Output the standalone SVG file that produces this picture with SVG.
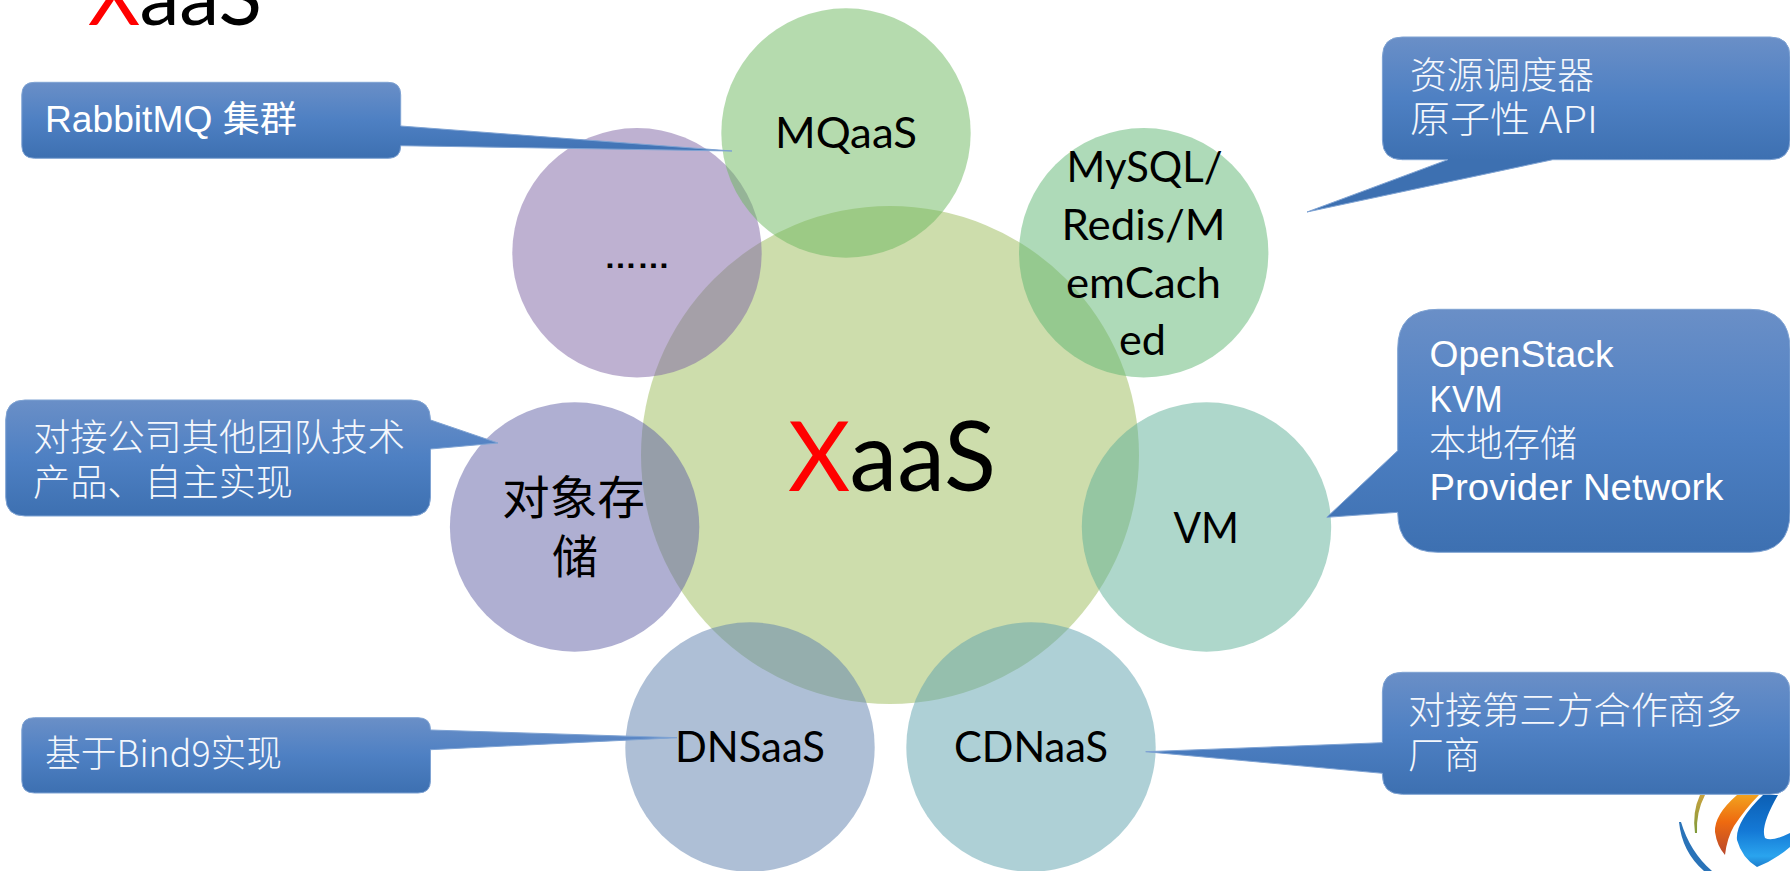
<svg xmlns="http://www.w3.org/2000/svg" width="1790" height="871" viewBox="0 0 1790 871">
<style>
.c{opacity:.5}
.b{font-family:Lato,"Liberation Sans","Noto Sans CJK SC",sans-serif;fill:#000;font-size:42px}
.cj{font-family:"Noto Sans CJK SC",sans-serif;fill:#000;font-size:46px}
.w{font-family:"Liberation Sans","Noto Sans CJK SC",sans-serif;fill:#fff;font-size:36px}
.wc{font-family:"Noto Sans CJK SC","Liberation Sans",sans-serif;fill:#f4f7fc;font-size:37px;font-weight:300}
.co{stroke:#7fa3d3;stroke-width:1}
</style>
<defs>
<linearGradient id="cg"><stop offset="0" stop-color="#6A8FC7"/><stop offset=".5" stop-color="#4E80C3"/><stop offset="1" stop-color="#3D70B1"/></linearGradient>
<linearGradient id="g1" href="#cg" gradientUnits="userSpaceOnUse" x1="0" x2="0" y1="82" y2="158"/>
<linearGradient id="g2" href="#cg" gradientUnits="userSpaceOnUse" x1="0" x2="0" y1="400" y2="516"/>
<linearGradient id="g3" href="#cg" gradientUnits="userSpaceOnUse" x1="0" x2="0" y1="718" y2="793"/>
<linearGradient id="g4" href="#cg" gradientUnits="userSpaceOnUse" x1="0" x2="0" y1="37" y2="160"/>
<linearGradient id="g5" href="#cg" gradientUnits="userSpaceOnUse" x1="0" x2="0" y1="309" y2="552"/>
<linearGradient id="g6" href="#cg" gradientUnits="userSpaceOnUse" x1="0" x2="0" y1="672" y2="794"/>
<linearGradient id="lo" x1="0" x2="0" y1="0" y2="1"><stop offset="0" stop-color="#f2a21e"/><stop offset=".45" stop-color="#ee6a10"/><stop offset="1" stop-color="#b8482c"/></linearGradient>
<linearGradient id="lb" x1="0" x2="0" y1="0" y2="1"><stop offset="0" stop-color="#0c5fb4"/><stop offset=".5" stop-color="#1479d6"/><stop offset=".85" stop-color="#2aa4ee"/><stop offset="1" stop-color="#1c7ccc"/></linearGradient>
<linearGradient id="ly" x1="0" x2="0" y1="0" y2="1"><stop offset="0" stop-color="#c9a23e"/><stop offset="1" stop-color="#7f9a3a"/></linearGradient>
</defs>

<g id="logo">
<path d="M1700 795Q1692 812 1695 833L1697 833Q1696 812 1705 795Z" fill="url(#ly)"/>
<path d="M1737 795Q1714 815 1715 832Q1717 846 1725 855Q1727 838 1734 826Q1746 808 1759 795Z" fill="url(#lo)"/>
<path d="M1763 795Q1735 822 1737 840Q1742 858 1757 867Q1775 860 1790 847V833Q1772 842 1765 838Q1760 826 1778 795Z" fill="url(#lb)"/>
<path d="M1679 822Q1682 852 1704 871H1712Q1690 852 1681 822Z" fill="#2a73b8"/>
</g>

<g id="title-xaas"><text x="88" y="25" class="b" style="font-size:80px" textLength="174" lengthAdjust="spacingAndGlyphs"><tspan fill="#f00">X</tspan>aaS</text></g>

<g id="xaas"><circle class="c" cx="890" cy="455" r="249" fill="#9BBB59"/><text x="788" y="491" class="b" style="font-size:96px" textLength="208" lengthAdjust="spacingAndGlyphs"><tspan fill="#f00">X</tspan>aaS</text></g>

<g id="more"><circle class="c" cx="637" cy="252.8" r="124.7" fill="#7D63A3"/><text x="604" y="268" class="b" style="font-family:'Liberation Sans',sans-serif;font-size:30px;font-weight:700" textLength="66" lengthAdjust="spacingAndGlyphs">……</text></g>

<g id="mqaas"><circle class="c" cx="846" cy="133" r="124.7" fill="#6BB75D"/><text x="775" y="148" class="b" textLength="142" lengthAdjust="spacingAndGlyphs">MQaaS</text></g>

<g id="mysql"><circle class="c" cx="1143.7" cy="252.8" r="124.7" fill="#5DB571"/>
<text x="1066.6" y="181.7" class="b" textLength="156" lengthAdjust="spacingAndGlyphs">MySQL/</text>
<text x="1061.5" y="240" class="b" textLength="164" lengthAdjust="spacingAndGlyphs">Redis/M</text>
<text x="1066" y="297.7" class="b" textLength="155" lengthAdjust="spacingAndGlyphs">emCach</text>
<text x="1119" y="355" class="b" textLength="47" lengthAdjust="spacingAndGlyphs">ed</text></g>

<g id="vm"><circle class="c" cx="1206.5" cy="527" r="124.7" fill="#5DB097"/><text x="1173.5" y="543" class="b" textLength="65.5" lengthAdjust="spacingAndGlyphs">VM</text></g>

<g id="cdnaas"><circle class="c" cx="1031" cy="747" r="124.7" fill="#5DA1AD"/><text x="954" y="761.7" class="b" textLength="154" lengthAdjust="spacingAndGlyphs">CDNaaS</text></g>

<g id="dnsaas"><circle class="c" cx="750" cy="747" r="124.7" fill="#5D7FAD"/><text x="675" y="762" class="b" textLength="150" lengthAdjust="spacingAndGlyphs">DNSaaS</text></g>

<g id="object-storage"><circle class="c" cx="574.6" cy="527" r="124.7" fill="#5F5FA5"/>
<text x="502" y="514" class="cj" textLength="143" lengthAdjust="spacingAndGlyphs">对象存</text>
<text x="552" y="573" class="cj">储</text></g>

<g id="callout-rabbitmq"><path class="co" fill="url(#g1)" d="M34.5 82.3H388Q400.7 82.3 400.7 95V126L732 151L400.7 145.7Q400.7 158.3 388 158.3H34.5Q21.8 158.3 21.8 145.6V95Q21.8 82.3 34.5 82.3Z"/>
<text x="45" y="131.7" class="w" textLength="252" lengthAdjust="spacingAndGlyphs">RabbitMQ  集群</text></g>

<g id="callout-object"><path class="co" fill="url(#g2)" d="M25 400H411Q430.5 400 430.5 420L498 443L430.5 449V497Q430.5 516 411 516H25Q5.7 516 5.7 497V420Q5.7 400 25 400Z"/>
<text x="33" y="450.5" class="wc" textLength="372" lengthAdjust="spacingAndGlyphs">对接公司其他团队技术</text>
<text x="33" y="496" class="wc" textLength="260" lengthAdjust="spacingAndGlyphs">产品、自主实现</text></g>

<g id="callout-dns"><path class="co" fill="url(#g3)" d="M34.5 717.7H418Q430.5 717.7 430.5 730L677 737.7L430.5 749.7V780.5Q430.5 793 418 793H34.5Q21.8 793 21.8 780.5V730Q21.8 717.7 34.5 717.7Z"/>
<text x="45" y="767" class="wc" textLength="237" lengthAdjust="spacingAndGlyphs">基于Bind9实现</text></g>

<g id="callout-scheduler"><path class="co" fill="url(#g4)" d="M1402.4 37H1770Q1790 37 1790 57V140Q1790 159.7 1770 159.7H1552.7L1307 212L1447.7 159.7H1402.4Q1382.4 159.7 1382.4 140V57Q1382.4 37 1402.4 37Z"/>
<text x="1410" y="89" class="wc" textLength="184" lengthAdjust="spacingAndGlyphs">资源调度器</text>
<text x="1410" y="133" class="wc" textLength="188" lengthAdjust="spacingAndGlyphs">原子性  API</text></g>

<g id="callout-vm"><path class="co" fill="url(#g5)" d="M1438 309.3H1750Q1790 309.3 1790 349V512Q1790 552.3 1750 552.3H1438Q1397.7 552.3 1397.7 512.3L1326.8 517.3L1397.7 450.7V349Q1397.7 309.3 1438 309.3Z"/>
<text x="1429.5" y="366.7" class="w" textLength="184" lengthAdjust="spacingAndGlyphs">OpenStack</text>
<text x="1429.5" y="411.7" class="w" textLength="73" lengthAdjust="spacingAndGlyphs">KVM</text>
<text x="1429" y="456.5" class="wc" textLength="148" lengthAdjust="spacingAndGlyphs">本地存储</text>
<text x="1429.5" y="500" class="w" textLength="294" lengthAdjust="spacingAndGlyphs">Provider  Network</text></g>

<g id="callout-cdn"><path class="co" fill="url(#g6)" d="M1402.4 672.3H1770Q1790 672.3 1790 692V775Q1790 794.3 1770 794.3H1402.4Q1382.4 794.3 1382.4 775V773.3L1145.7 751.7L1382.4 742.7V692Q1382.4 672.3 1402.4 672.3Z"/>
<text x="1408" y="723.5" class="wc" textLength="334" lengthAdjust="spacingAndGlyphs">对接第三方合作商多</text>
<text x="1408" y="769" class="wc" textLength="72" lengthAdjust="spacingAndGlyphs">厂商</text></g>
</svg>
